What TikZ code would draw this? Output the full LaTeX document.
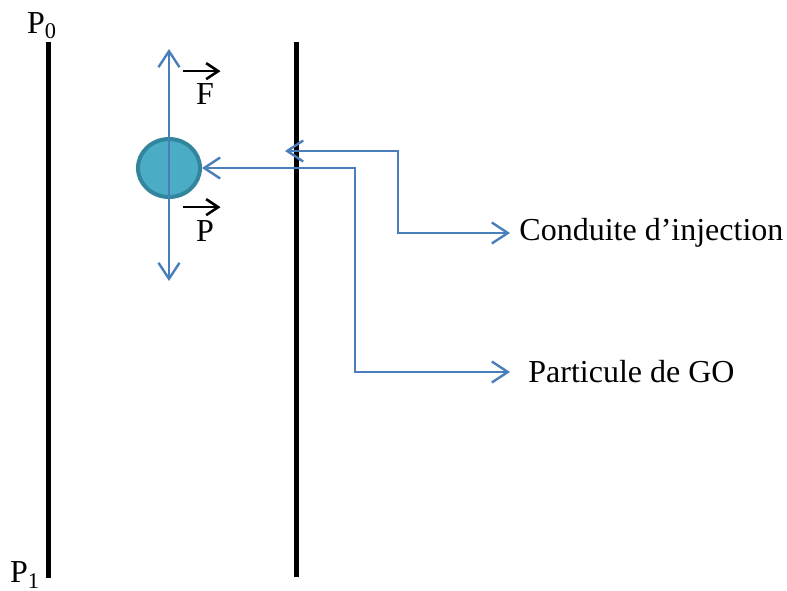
\documentclass[tikz,border=0pt]{standalone}
\usepackage{fontspec}
\setmainfont{Liberation Serif}
\usetikzlibrary{positioning, arrows.meta, shapes.geometric}
\definecolor{lineBlue}{HTML}{4A7EBB}
\definecolor{dropFill}{HTML}{4BACC6}
\definecolor{dropEdge}{HTML}{31859C}
\tikzset{
  every node/.style={font=\fontsize{16}{19}\selectfont},
  wall/.style={line width=2.5pt, black},
  link/.style={lineBlue, line width=1.2pt,
               {Straight Barb[length=8pt,width=10.5pt]}-{Straight Barb[length=8pt,width=10.5pt]}},
  vecarr/.style={-{Straight Barb[length=6pt,width=8pt]}, line width=1.3pt, black},
  drop/.style={ellipse, draw=dropEdge, fill=dropFill, line width=2pt,
               minimum width=31pt, minimum height=29pt, inner sep=0pt},
  lbl/.style={anchor=west, inner ysep=0pt},
  vecname/.style={inner xsep=0.6pt, inner ysep=0pt},
}

\begin{document}
\begin{tikzpicture}[x=0.5pt, y=-0.5pt]
  \useasboundingbox (0,0) rectangle (787,590);
  % the two walls of the duct
  \draw[wall] (48,42) -- (48,578);
  \draw[wall] (296,42) -- (296,577);
  \node (p0) at (42,26) {P\textsubscript{0}};
  \node (p1) at (25,575) {P\textsubscript{1}};
  % the drop and its two forces
  \node[drop] (gout) at (169,168) {};
  \coordinate (ftop) at (169,49);
  \coordinate (pbot) at (169,281);
  \draw[link] (ftop) -- (pbot);
  \node[vecname] (force) at (205,94) {F};
  \node[vecname] (poids) at (205,231) {P};
  \draw[vecarr] ([xshift=-6pt, yshift=6pt]force.north west) -- ([xshift=2.5pt, yshift=6pt]force.north east);
  \draw[vecarr] ([xshift=-6pt, yshift=6.5pt]poids.north west) -- ([xshift=2.5pt, yshift=6.5pt]poids.north east);
  % the labels on the right
  \node[lbl, inner xsep=4.5pt] (conduite) at (510,233) {Conduite d’injection};
  \node[lbl, inner xsep=9pt] (particule) at (510,372) {Particule de GO};
  \coordinate (inj) at (285,151);
  \coordinate (kc) at (398,190);
  \coordinate (kp) at (355,300);
  \draw[link] (inj) -| (kc) |- (conduite.west);
  \draw[link] (gout.east) -| (kp) |- (particule.west);
\end{tikzpicture}
\end{document}
